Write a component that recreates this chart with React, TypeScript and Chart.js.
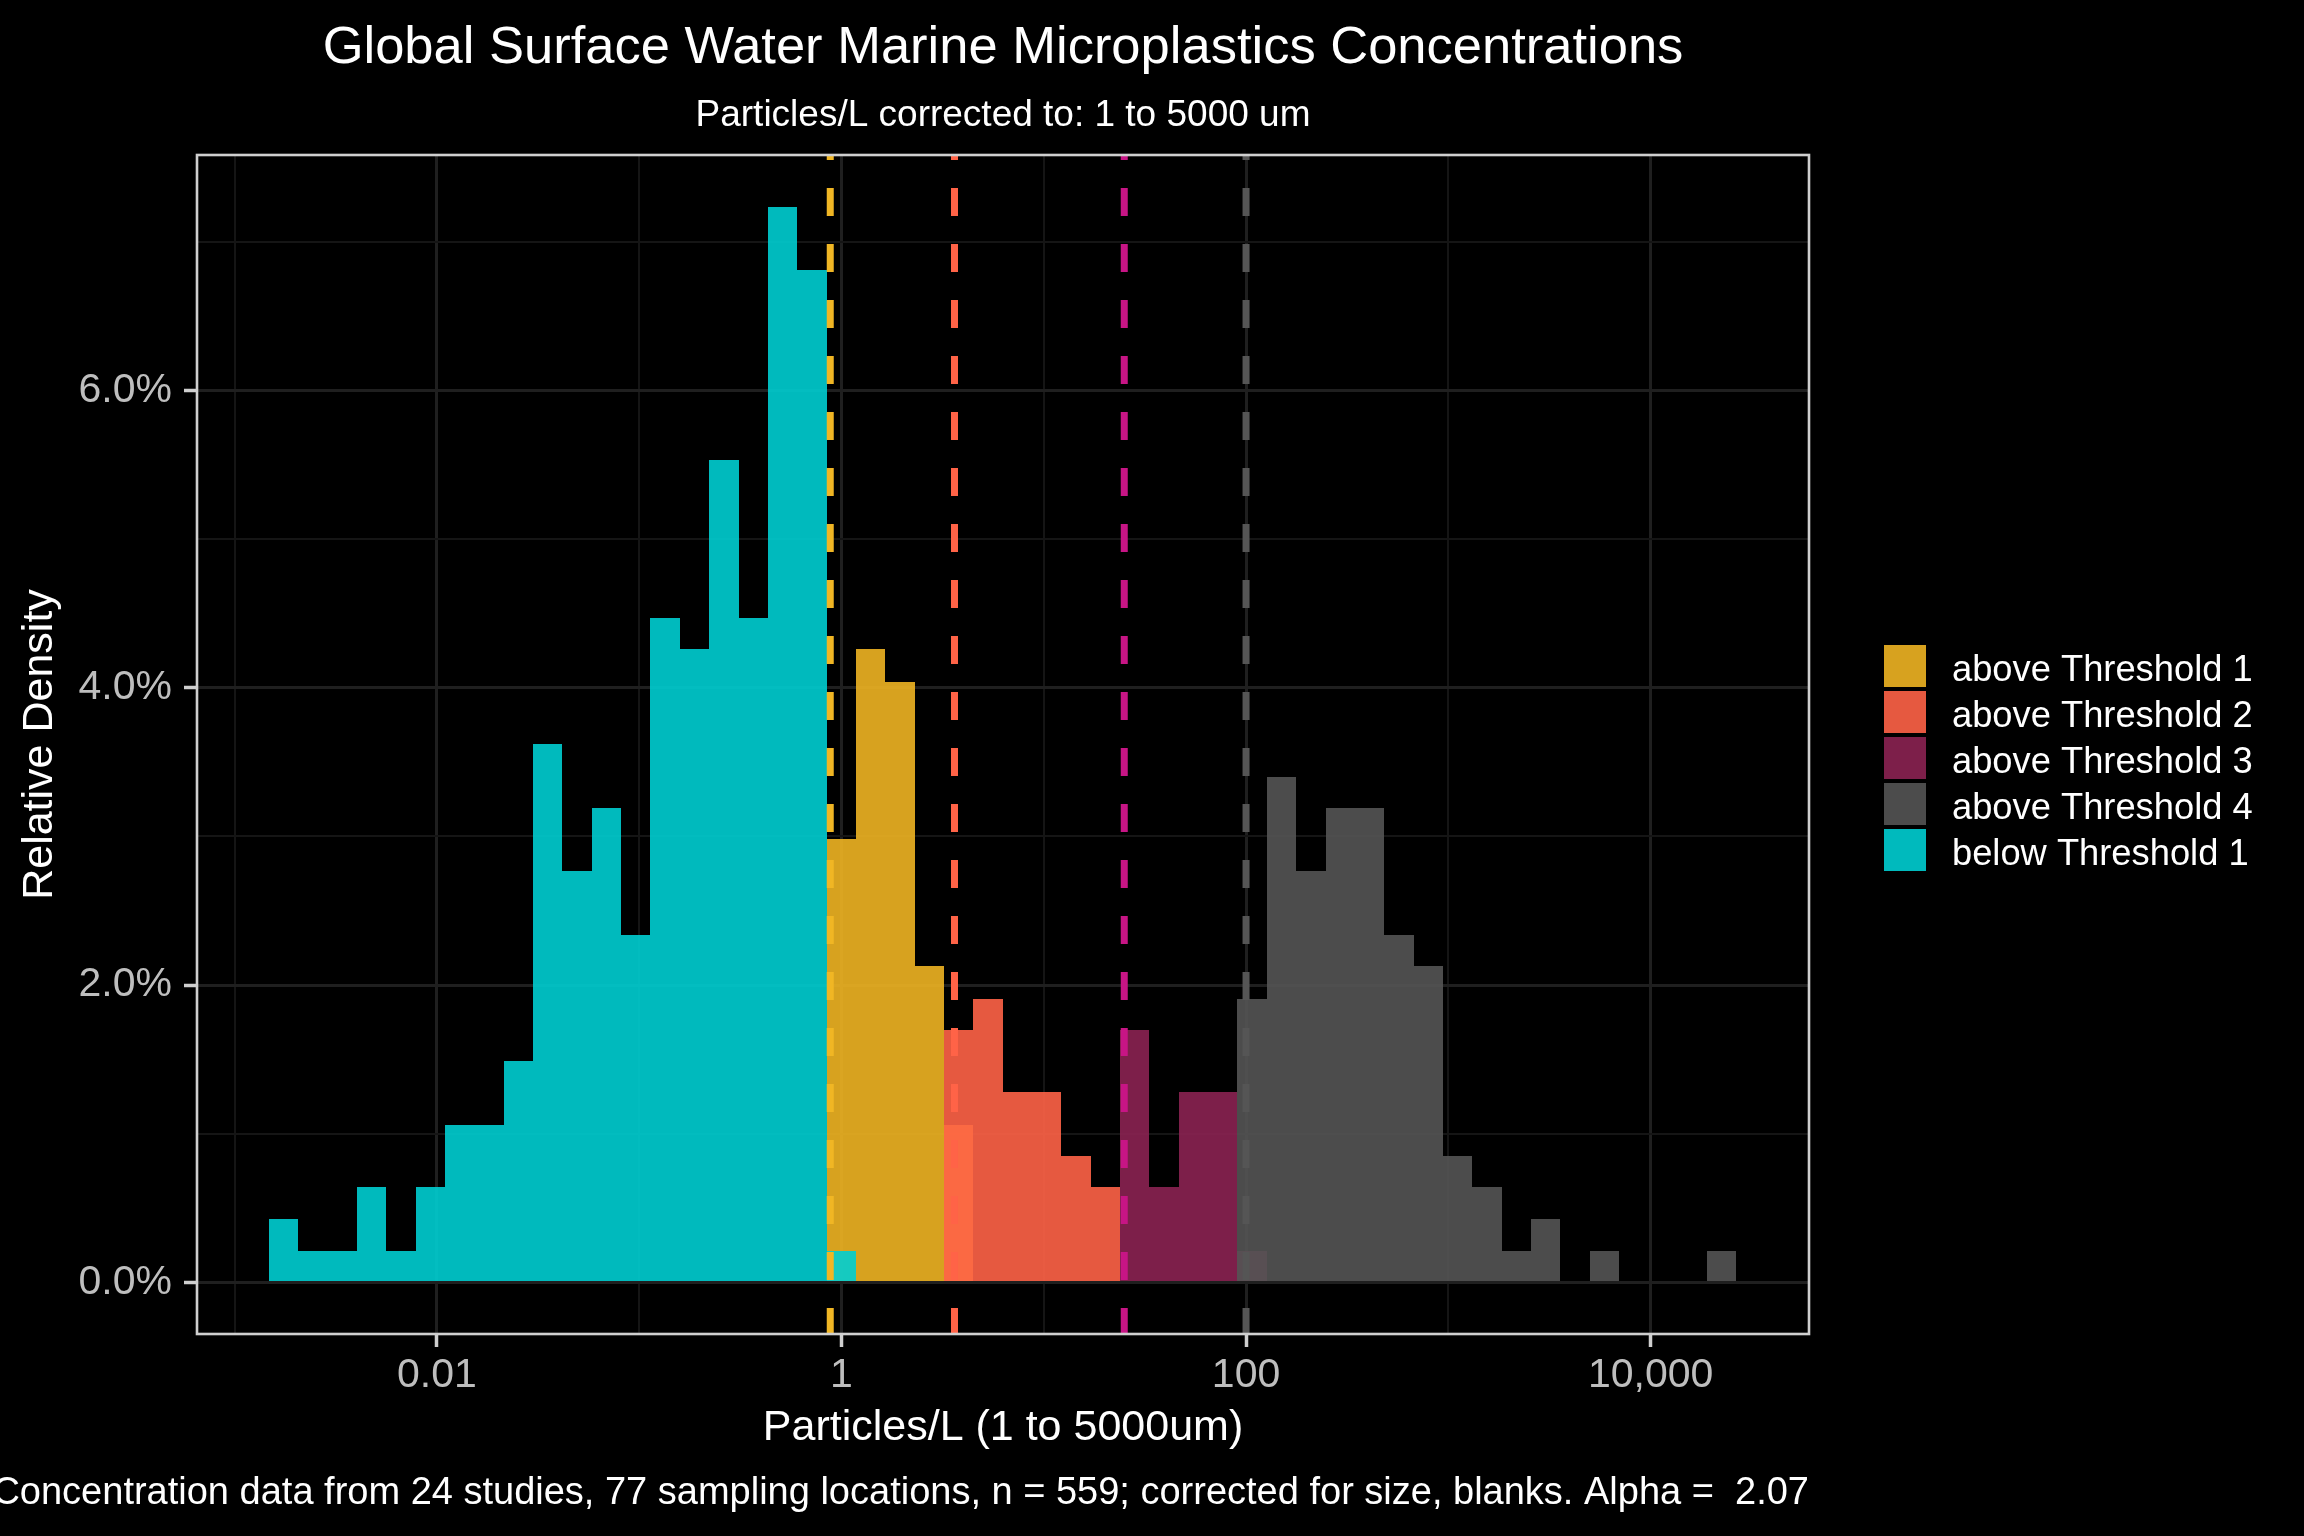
import React, { useEffect, useRef } from 'react';
import { Chart, registerables } from 'chart.js';

Chart.register(...registerables);

const FONT = '"Liberation Sans", Arial, Helvetica, sans-serif';
const _ = null;

// ---------- DATA ----------
// Histogram bin centres, log10(particles / L)
const binCentersLog10 = [
  -2.758, -2.613, -2.468, -2.323, -2.178, -2.032, -1.887, -1.742, -1.597, -1.452,
  -1.307, -1.162, -1.017, -0.872, -0.727, -0.582, -0.436, -0.291, -0.146, -0.001,
  0.144, 0.289, 0.434, 0.579, 0.724, 0.87, 1.015, 1.16, 1.305, 1.45,
  1.595, 1.74, 1.885, 2.03, 2.175, 2.32, 2.466, 2.611, 2.756, 2.901,
  3.046, 3.191, 3.336, 3.481, 3.626, 3.771, 3.916, 4.062, 4.207, 4.352,
];

// Relative density (%) per bin for each group
const aboveThreshold1 = [
  _, _, _, _, _, _, _, _, _, _,
  _, _, _, _, _, _, _, _, _, 2.98,
  4.26, 4.04, 2.13, 1.06, _, _, _, _, _, _,
  _, _, _, _, _, _, _, _, _, _,
  _, _, _, _, _, _, _, _, _, _,
];
const aboveThreshold2 = [
  _, _, _, _, _, _, _, _, _, _,
  _, _, _, _, _, _, _, _, _, _,
  _, _, _, 1.7, 1.91, 1.28, 1.28, 0.85, 0.64, _,
  _, _, _, _, _, _, _, _, _, _,
  _, _, _, _, _, _, _, _, _, _,
];
const aboveThreshold3 = [
  _, _, _, _, _, _, _, _, _, _,
  _, _, _, _, _, _, _, _, _, _,
  _, _, _, _, _, _, _, _, _, 1.7,
  0.64, 1.28, 1.28, 0.21, _, _, _, _, _, _,
  _, _, _, _, _, _, _, _, _, _,
];
const aboveThreshold4 = [
  _, _, _, _, _, _, _, _, _, _,
  _, _, _, _, _, _, _, _, _, _,
  _, _, _, _, _, _, _, _, _, _,
  _, _, _, 1.91, 3.4, 2.77, 3.19, 3.19, 2.34, 2.13,
  0.85, 0.64, 0.21, 0.43, _, 0.21, _, _, _, 0.21,
];
const belowThreshold1 = [
  0.43, 0.21, 0.21, 0.64, 0.21, 0.64, 1.06, 1.06, 1.49, 3.62,
  2.77, 3.19, 2.34, 4.47, 4.26, 5.53, 4.47, 7.23, 6.81, 0.21,
  _, _, _, _, _, _, _, _, _, _,
  _, _, _, _, _, _, _, _, _, _,
  _, _, _, _, _, _, _, _, _, _,
];

const seriesNames = ['above Threshold 1', 'above Threshold 2', 'above Threshold 3', 'above Threshold 4', 'below Threshold 1'];
const seriesValues = [aboveThreshold1, aboveThreshold2, aboveThreshold3, aboveThreshold4, belowThreshold1];
const seriesColors = [
  'rgba(238,180,34,0.9)',
  'rgba(255,99,71,0.9)',
  'rgba(139,34,82,0.9)',
  'rgba(84,84,84,0.9)',
  'rgba(0,206,209,0.9)',
];
const seriesDrawOrder = [5, 4, 3, 2, 1];

// Threshold lines (particles / L)
const thresholdValues = [0.88, 3.62, 25, 100];
const thresholdColors = ['rgb(240,182,36)', 'rgb(255,99,71)', 'rgb(199,21,133)', 'rgb(85,85,85)'];

// Axis ticks
const xTickValues = [0.01, 1, 100, 10000];
const xTickLabels = ['0.01', '1', '100', '10,000'];
const xMinorTickValues = [0.001, 0.1, 10, 1000];
const yTickValues = [0, 2, 4, 6];
const yTickLabels = ['0.0%', '2.0%', '4.0%', '6.0%'];
const yMinorTickValues = [1, 3, 5, 7];

const titleText = 'Global Surface Water Marine Microplastics Concentrations';
const subtitleText = 'Particles/L corrected to: 1 to 5000 um';
const captionText = 'Concentration data from 24 studies, 77 sampling locations, n = 559; corrected for size, blanks. Alpha =  2.07';
const xTitle = 'Particles/L (1 to 5000um)';
const yTitle = 'Relative Density';

// ---------- helpers ----------
const xMajorLog = xTickValues.map((v) => Math.round(Math.log10(v)));
const xAllTicks = [...xTickValues, ...xMinorTickValues].map((v) => Math.round(Math.log10(v))).sort((a, b) => a - b);
const isXMajor = (v: number) => xMajorLog.some((m) => Math.abs(m - v) < 1e-6);
const isYMajor = (v: number) => yTickValues.some((m) => Math.abs(m - v) < 1e-6);

// bin edges (value units) taken as midpoints between neighbouring bin centres
const nBins = binCentersLog10.length;
const halfBin = (binCentersLog10[nBins - 1] - binCentersLog10[0]) / (nBins - 1) / 2;
const leftEdge = (k: number) => (k === 0 ? binCentersLog10[0] - halfBin : (binCentersLog10[k - 1] + binCentersLog10[k]) / 2);
const rightEdge = (k: number) => (k === nBins - 1 ? binCentersLog10[k] + halfBin : (binCentersLog10[k] + binCentersLog10[k + 1]) / 2);

const GRID_MAJOR = '#1f1f1f';
const GRID_MINOR = '#151515';
const TICK_COLOR = '#cfcfcf';
const TICK_TEXT = '#bebebe';

const decorPlugin = {
  id: 'decor',
  beforeDraw(chart: any) {
    const { ctx, width, height } = chart;
    ctx.save();
    ctx.fillStyle = '#000';
    ctx.fillRect(0, 0, width, height);
    ctx.restore();
  },
  afterDatasetsUpdate(chart: any) {
    // snap bar edges to whole pixels (shared edges between neighbouring bins) so bins meet without seams
    const xs = chart.scales.x;
    chart.data.datasets.forEach((_d: any, i: number) => {
      const meta = chart.getDatasetMeta(i);
      meta.data.forEach((el: any, j: number) => {
        const xv = meta._parsed[j].x;
        let k = 0;
        let best = Infinity;
        binCentersLog10.forEach((c, idx) => {
          const d = Math.abs(c - xv);
          if (d < best) {
            best = d;
            k = idx;
          }
        });
        const l = Math.round(xs.getPixelForValue(leftEdge(k)));
        const r = Math.round(xs.getPixelForValue(rightEdge(k)));
        el.x = (l + r) / 2;
        el.width = r - l;
        el.y = Math.round(el.y);
        el.base = Math.round(el.base);
      });
    });
  },
  afterDatasetsDraw(chart: any) {
    const { ctx, chartArea: a, scales } = chart;
    const x = scales.x;
    ctx.save();
    ctx.beginPath();
    ctx.rect(a.left, a.top, a.right - a.left, a.bottom - a.top);
    ctx.clip();
    thresholdValues.forEach((t, i) => {
      const px = x.getPixelForValue(Math.log10(t));
      ctx.strokeStyle = thresholdColors[i];
      ctx.lineWidth = 7;
      ctx.setLineDash([28, 28]);
      ctx.lineDashOffset = 0;
      ctx.beginPath();
      ctx.moveTo(px, a.bottom + 2);
      ctx.lineTo(px, a.top - 2);
      ctx.stroke();
    });
    ctx.restore();

    ctx.save();
    ctx.strokeStyle = '#cfcfcf';
    ctx.lineWidth = 2.6;
    ctx.strokeRect(a.left, a.top, a.right - a.left, a.bottom - a.top);
    ctx.restore();
  },
  afterDraw(chart: any) {
    const { ctx, chartArea: a } = chart;
    const cx = (a.left + a.right) / 2;
    ctx.save();
    ctx.fillStyle = '#ffffff';
    ctx.textBaseline = 'alphabetic';
    ctx.textAlign = 'center';
    ctx.font = `52.5px ${FONT}`;
    ctx.fillText(titleText, cx, 63);
    ctx.font = `37px ${FONT}`;
    ctx.fillText(subtitleText, cx, 126);
    ctx.textAlign = 'right';
    ctx.font = `38px ${FONT}`;
    ctx.fillText(captionText, a.right, 1504);

    // legend
    ctx.textAlign = 'left';
    ctx.font = `36.3px ${FONT}`;
    seriesNames.forEach((name, i) => {
      const top = 645 + i * 46;
      ctx.fillStyle = seriesColors[i];
      ctx.fillRect(1884, top, 42, 42);
      ctx.fillStyle = '#ffffff';
      ctx.fillText(name, 1952, top + 36);
    });
    ctx.restore();
  },
};

export default function App() {
  const ref = useRef<HTMLCanvasElement>(null);

  useEffect(() => {
    const canvas = ref.current;
    if (!canvas) return;
    Chart.defaults.font.family = FONT;

    const datasets = seriesNames.map((name, i) => ({
      label: name,
      data: binCentersLog10
        .map((c, k) => ({ x: c, y: seriesValues[i][k] }))
        .filter((p) => p.y !== null),
      backgroundColor: seriesColors[i],
      borderWidth: 0,
      inflateAmount: 0,
      grouped: false,
      barPercentage: 1,
      categoryPercentage: 1,
      order: seriesDrawOrder[i],
    }));

    const chart = new Chart(canvas, {
      type: 'bar',
      data: { datasets } as any,
      plugins: [decorPlugin],
      options: {
        responsive: false,
        animation: false,
        devicePixelRatio: 1,
        layout: { padding: { left: 0, top: 155, right: 495, bottom: 0 } },
        plugins: {
          legend: { display: false },
          tooltip: { enabled: false },
          title: { display: false },
        },
        scales: {
          x: {
            type: 'linear',
            offset: false,
            min: -3.186,
            max: 4.783,
            afterBuildTicks: (scale: any) => {
              scale.ticks = xAllTicks.map((v) => ({ value: v }));
            },
            afterFit: (scale: any) => {
              scale.height = 202;
            },
            border: { display: false },
            grid: {
              offset: false,
              drawOnChartArea: true,
              drawTicks: true,
              tickLength: 13,
              color: (ctx: any) => (ctx.tick && isXMajor(ctx.tick.value) ? GRID_MAJOR : GRID_MINOR),
              lineWidth: (ctx: any) => (ctx.tick && isXMajor(ctx.tick.value) ? 3 : 2),
              tickColor: (ctx: any) => (ctx.tick && isXMajor(ctx.tick.value) ? TICK_COLOR : 'rgba(0,0,0,0)'),
              tickWidth: 3.5,
            },
            ticks: {
              autoSkip: false,
              maxRotation: 0,
              minRotation: 0,
              padding: 4,
              color: TICK_TEXT,
              font: { size: 41, family: FONT },
              callback: (value: any) => {
                const idx = xMajorLog.findIndex((m) => Math.abs(m - Number(value)) < 1e-6);
                return idx >= 0 ? xTickLabels[idx] : '';
              },
            },
            title: {
              display: true,
              text: xTitle,
              color: '#ffffff',
              font: { size: 43, family: FONT },
              padding: { top: 0, bottom: 82 },
            },
          },
          y: {
            type: 'linear',
            min: -0.3456,
            max: 7.582,
            afterBuildTicks: (scale: any) => {
              scale.ticks = [...yTickValues, ...yMinorTickValues].sort((a, b) => a - b).map((v) => ({ value: v }));
            },
            afterFit: (scale: any) => {
              scale.width = 197;
            },
            border: { display: false },
            grid: {
              drawOnChartArea: true,
              drawTicks: true,
              tickLength: 13,
              color: (ctx: any) => (ctx.tick && isYMajor(ctx.tick.value) ? GRID_MAJOR : GRID_MINOR),
              lineWidth: (ctx: any) => (ctx.tick && isYMajor(ctx.tick.value) ? 3 : 2),
              tickColor: (ctx: any) => (ctx.tick && isYMajor(ctx.tick.value) ? TICK_COLOR : 'rgba(0,0,0,0)'),
              tickWidth: 3.5,
            },
            ticks: {
              autoSkip: false,
              padding: 12,
              color: TICK_TEXT,
              font: { size: 41, family: FONT },
              callback: (value: any) => {
                const idx = yTickValues.findIndex((m) => Math.abs(m - Number(value)) < 1e-6);
                return idx >= 0 ? yTickLabels[idx] : '';
              },
            },
            title: {
              display: true,
              text: yTitle,
              color: '#ffffff',
              font: { size: 43, family: FONT },
              padding: { top: 14, bottom: 0 },
            },
          },
        },
      } as any,
    });

    return () => chart.destroy();
  }, []);

  return (
    <div style={{ position: 'fixed', left: 0, top: 0, width: 2304, height: 1536, background: '#000', overflow: 'hidden' }}>
      <canvas ref={ref} width={2304} height={1536} style={{ display: 'block', width: 2304, height: 1536 }} />
    </div>
  );
}
